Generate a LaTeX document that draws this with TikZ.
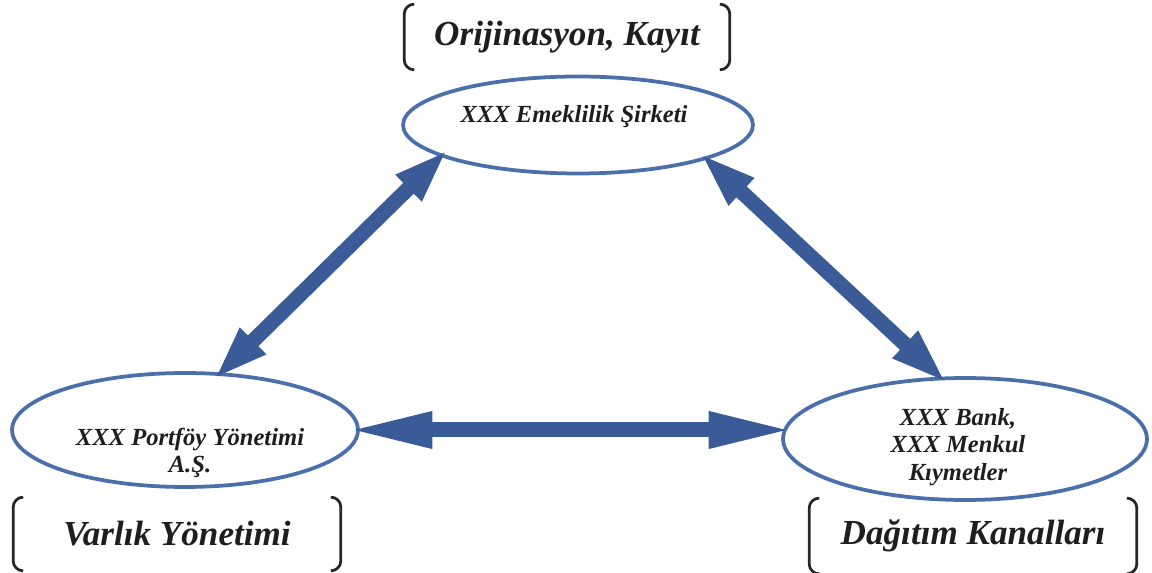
\documentclass[tikz,border=0pt]{standalone}
\usepackage{fontspec}
\setmainfont{Liberation Serif}
\usepackage{xcolor}
\usetikzlibrary{arrows.meta,shapes.geometric}
\definecolor{firmblue}{HTML}{4A6FAA}
\definecolor{linkblue}{HTML}{3A5A98}
\definecolor{inkgray}{HTML}{1E1E1E}

\begin{document}
\begin{tikzpicture}[x=0.02cm, y=-0.02cm]
    	\tikzstyle{firm}=[ellipse, draw=firmblue, line width=0.075cm, fill=white, inner sep=0pt]
    	\tikzstyle{firmtext}=[align=center, text=inkgray, font=\fontsize{14}{15.5}\selectfont\bfseries\itshape]
    	\tikzstyle{role}=[text=inkgray, inner sep=0pt, font=\fontsize{20}{24}\selectfont\bfseries\itshape]
    	\tikzstyle{bracket}=[draw=black!85, line width=0.055cm, rounded corners=0.2cm]
    	\tikzset{link/.style={line width=0.3cm, draw=linkblue, shorten <=-0.2cm, shorten >=-0.2cm,
    			{Triangle[length=#1,width=0.66cm]}-{Triangle[length=#1,width=0.66cm]}}}

    	\useasboundingbox (0,0) rectangle (1152,573);

    	% Firms
    	\node[firm, minimum width=7cm, minimum height=1.94cm] at (578,125) (emk) {};
    	\node[firm, minimum width=6.92cm, minimum height=2.28cm] at (185,430) (pfy) {};
    	\node[firm, minimum width=7.28cm, minimum height=2.44cm] at (965,439) (bnk) {};

    	\node[firmtext] at (574,117) (emk_txt) {XXX Emeklilik Şirketi};
    	\node[firmtext] at (190,453) (pfy_txt) {XXX Portföy Yönetimi\\A.Ş.};
    	\node[firmtext] at (958,447) (bnk_txt) {XXX Bank,\\XXX Menkul\\Kıymetler};

    	% Roles
    	\node[role, minimum width=6.5cm, minimum height=1.3cm] at (567,37) (role_top) {Orijinasyon, Kayıt};
    	\node[role, minimum width=6.54cm, minimum height=1.46cm] at (177,534) (role_left) {Varlık Yönetimi};
    	\node[role, minimum width=6.54cm, minimum height=1.5cm] at (973,536) (role_right) {Dağıtım Kanalları};

    	\foreach \lbl in {role_top, role_left, role_right} {
    		\draw[bracket] ([xshift=0.2cm]\lbl.north west) -- (\lbl.north west) -- (\lbl.south west) -- ([xshift=0.2cm]\lbl.south west);
    		\draw[bracket] ([xshift=-0.2cm]\lbl.north east) -- (\lbl.north east) -- (\lbl.south east) -- ([xshift=-0.2cm]\lbl.south east);
    	}

		%----------------------------------------------------%
		%                  connect firms    	             %
		%----------------------------------------------------%

    	\draw[link=1.1cm] (emk.193) -- (pfy.58);
    	\draw[link=1.15cm] (emk.345) -- (bnk.112);
    	\draw[link=1.72cm, shorten <=-0.27cm, shorten >=-0.27cm] (pfy.east) -- (pfy.east -| bnk.west);

\end{tikzpicture}
\end{document}
